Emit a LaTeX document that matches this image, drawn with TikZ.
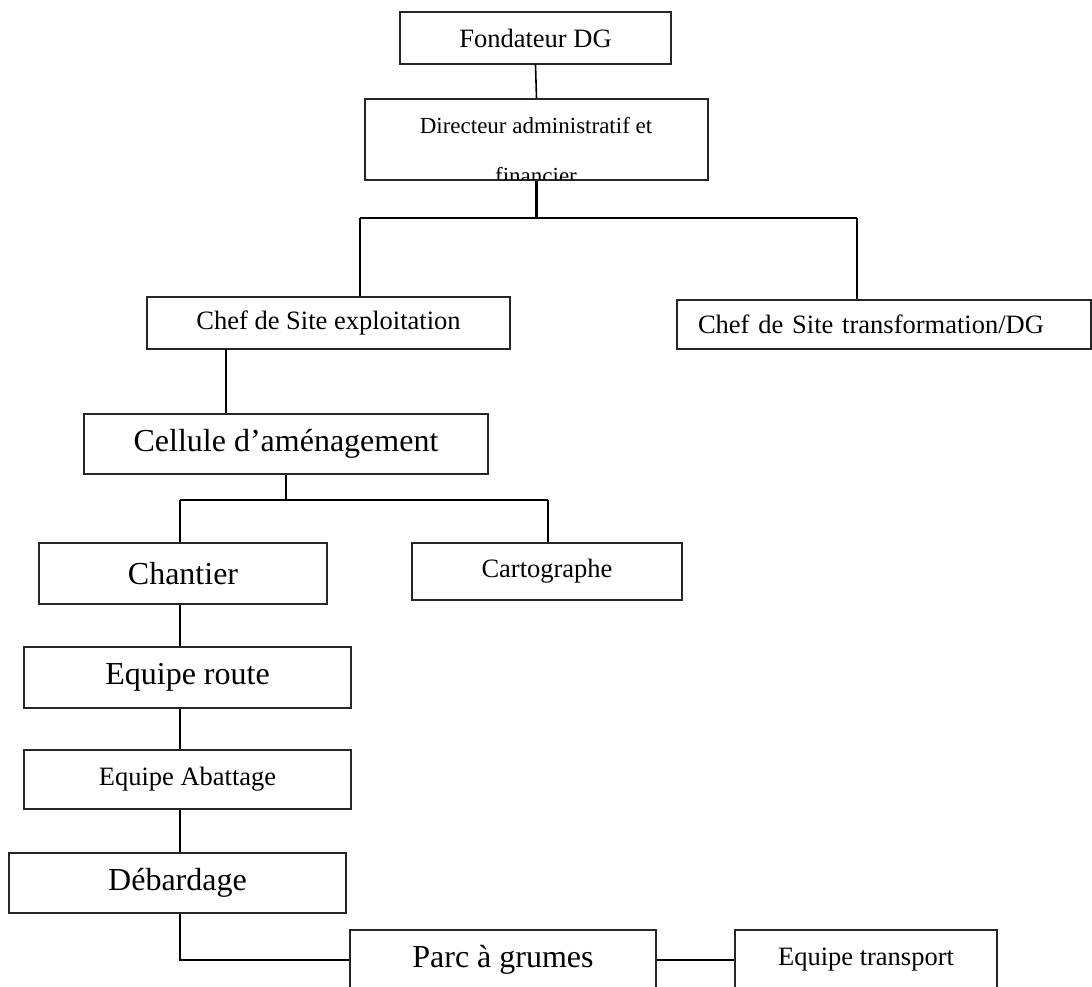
\documentclass[tikz,border=0pt]{standalone}
\usepackage{fontspec}
\setmainfont{Liberation Serif}
\usepackage{tikz}
\usetikzlibrary{positioning,calc}
\tikzset{
  post/.style={draw=black!85, line width=1.1pt, fill=white, inner sep=0pt, align=center},
  link/.style={draw=black, line width=1.6pt},
  buslink/.style={draw=black, line width=2.8pt},
  big/.style={font=\fontsize{32}{38}\selectfont},
  mid/.style={font=\fontsize{26.5}{32}\selectfont},
  small/.style={font=\fontsize{23}{28}\selectfont},
}

\begin{document}
\begin{tikzpicture}[x=1pt, y=-1pt]
  \useasboundingbox (0,0) rectangle (1092,987);

  % Direction
  \node[post, mid, minimum width=271pt, minimum height=52pt] (fond) at (535.5,38) {Fondateur DG};
  \node[post, minimum width=343pt, minimum height=81pt] (dir) at (536.5,139.5) {};
  \node[small, anchor=base] (dirA) at (536,134) {Directeur administratif et};
  \begin{scope}
    \clip (dir.south west) rectangle (dir.north east);
    \node[small, anchor=base] (dirB) at (536,184) {financier};
  \end{scope}
  \draw[post, fill=none] (dir.south west) rectangle (dir.north east);

  % Sites
  \node[post, mid, minimum width=363pt, minimum height=52pt] (chefE) at (328.5,323) {Chef de Site exploitation};
  \node[post, mid, minimum width=414pt, minimum height=49pt, text width=372pt, align=left] (chefT) at (884,324.5) {Chef de Site transformation/DG};

  % Amenagement
  \node[post, big, minimum width=404pt, minimum height=60pt] (cell) at (286,444) {Cellule d’aménagement};
  \node[post, big, minimum width=288pt, minimum height=61pt] (chant) at (183,573.5) {Chantier};
  \node[post, mid, minimum width=270pt, minimum height=57pt] (carto) at (547,571.5) {Cartographe};

  % Chantier chain
  \node[post, big, minimum width=327pt, minimum height=61pt] (route) at (187.5,677.5) {Equipe route};
  \node[post, mid, minimum width=327pt, minimum height=59pt] (abat) at (187.5,779.5) {Equipe Abattage};
  \node[post, big, minimum width=337pt, minimum height=60pt] (debard) at (177.5,883) {Débardage};
  \node[post, big, minimum width=306pt, minimum height=60pt] (parc) at (503,960) {Parc à grumes};
  \node[post, mid, minimum width=262pt, minimum height=60pt] (transp) at (866,960) {Equipe transport};

  % Links
  \coordinate (busL) at (360,218);
  \coordinate (busR) at (857,218);
  \coordinate (ceLink) at (226,349);
  \coordinate (busC) at (180,500);
  \coordinate (busD) at (548,500);
  \coordinate (spine) at (180,0);

  \draw[link] (fond.south) -- (dir.north);
  \draw[buslink] (dir.south) -- (dir.south |- busL);
  \draw[buslink] (busL) -- (busR);
  \draw[buslink] (busL) -- (busL |- chefE.north);
  \draw[buslink] (busR) -- (busR |- chefT.north);
  \draw[link] (ceLink) -- (ceLink |- cell.north);
  \draw[buslink] (cell.south) -- (cell.south |- busC);
  \draw[buslink] (busC) -- (busD);
  \draw[link] (busC) -- (busC |- chant.north);
  \draw[buslink] (busD) -- (busD |- carto.north);
  \draw[link] (spine |- chant.south) -- (spine |- route.north);
  \draw[link] (spine |- route.south) -- (spine |- abat.north);
  \draw[link] (spine |- abat.south) -- (spine |- debard.north);
  \draw[link] (spine |- debard.south) -- (spine |- parc.west) -- (parc.west);
  \draw[buslink] (parc.east) -- (transp.west);
\end{tikzpicture}
\end{document}
